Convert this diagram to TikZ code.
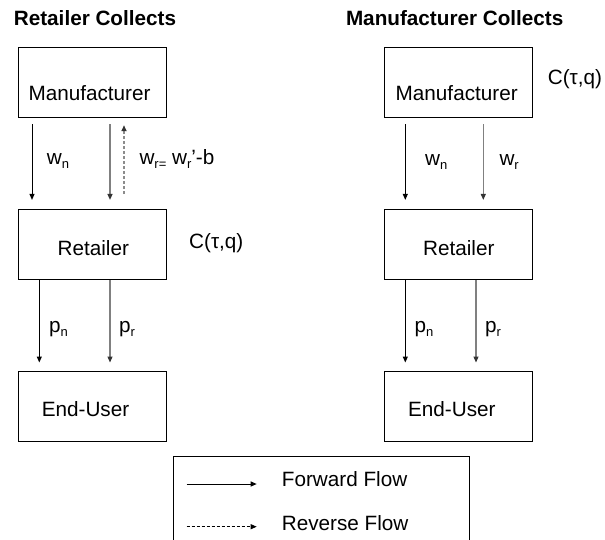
\documentclass[tikz,border=0pt]{standalone}
\usepackage{fontspec}
\setmainfont{Liberation Sans}
\usetikzlibrary{arrows.meta}
\newcommand\sbs[1]{\raisebox{-4.5pt}{\fontsize{13}{13}\selectfont #1}}
\tikzset{
  box/.style={draw, line width=1pt, minimum width=147.7pt, minimum height=70pt, inner sep=0pt},
  txt/.style={anchor=base, inner sep=0pt, font=\fontsize{20.7}{24}\selectfont},
  txtw/.style={anchor=base west, inner sep=0pt, font=\fontsize{20.7}{24}\selectfont},
  ttl/.style={anchor=base, inner sep=0pt, font=\fontsize{20.7}{24}\selectfont\bfseries},
  fwd/.style={line width=1pt, -{Triangle[length=6pt,width=5pt]}},
  fwdg/.style={line width=1.2pt, draw=black!50, -{Triangle[length=6pt,width=5pt,black!80]}},
  rev/.style={line width=1.5pt, draw=black!45, dash pattern=on 3pt off 2pt, -{Triangle[length=6pt,width=5pt,black!80]}},
}
\begin{document}
\begin{tikzpicture}[x=1pt,y=-1pt]
\useasboundingbox (0,0) rectangle (605,539);
\clip (0,0) rectangle (605,539);
% titles
\node[ttl] (t1) at (95,25) {Retailer Collects};
\node[ttl] (t2) at (454.7,25) {Manufacturer Collects};
% boxes left
\node[box] (mL) at (92.2,82) {};
\node[box] (rL) at (92.2,244.7) {};
\node[box] (eL) at (92.2,406) {};
% boxes right
\node[box] (mR) at (458.4,82) {};
\node[box] (rR) at (458.4,244.7) {};
\node[box] (eR) at (458.4,406) {};
% box texts
\node[txt] (mLt) at (89.5,100) {Manufacturer};
\node[txt] (rLt) at (93.3,255) {Retailer};
\node[txt] (eLt) at (85.5,416.7) {End-User};
\node[txt] (mRt) at (456.7,100) {Manufacturer};
\node[txt] (rRt) at (458.8,255) {Retailer};
\node[txt] (eRt) at (451.8,416.7) {End-User};
% cost labels
\node[txtw] (cL) at (189,248) {C(τ,q)};
\node[txtw] (cR) at (547.7,84) {C(τ,q)};
% left top arrows
\draw[fwd, shorten <=6.7pt, shorten >=9.3pt] ([xshift=-60.2pt]mL.south) -- ([xshift=-60.2pt]rL.north);
\draw[fwdg, shorten <=6.7pt, shorten >=9.3pt] ([xshift=17.8pt]mL.south) -- ([xshift=17.8pt]rL.north);
\draw[rev, shorten <=15pt, shorten >=7.7pt] ([xshift=31.8pt]rL.north) -- ([xshift=31.8pt]mL.south);
\node[txtw] (wnL) at (46.7,164) {w\sbs{n}};
\node[txtw] (wrL) at (139.3,164) {w\sbs{r=} w\sbs{r}’-b};
% left bottom arrows
\draw[fwd, shorten >=8pt] ([xshift=-52.9pt]rL.south) -- ([xshift=-52.9pt]eL.north);
\draw[fwdg, shorten >=8pt] ([xshift=17.8pt]rL.south) -- ([xshift=17.8pt]eL.north);
\node[txtw] (pnL) at (49,332) {p\sbs{n}};
\node[txtw] (prL) at (119,332) {p\sbs{r}};
% right top arrows
\draw[fwd, shorten <=6.7pt, shorten >=9.3pt] ([xshift=-53.1pt]mR.south) -- ([xshift=-53.1pt]rR.north);
\draw[fwdg, shorten <=6.7pt, shorten >=9.3pt] ([xshift=24.9pt]mR.south) -- ([xshift=24.9pt]rR.north);
\node[txtw] (wnR) at (425,165) {w\sbs{n}};
\node[txtw] (wrR) at (499.3,165) {w\sbs{r}};
% right bottom arrows
\draw[fwd, shorten >=8pt] ([xshift=-53.1pt]rR.south) -- ([xshift=-53.1pt]eR.north);
\draw[fwdg, shorten >=8pt] ([xshift=17.6pt]rR.south) -- ([xshift=17.6pt]eR.north);
\node[txtw] (pnR) at (414.3,332) {p\sbs{n}};
\node[txtw] (prR) at (485,332) {p\sbs{r}};
% legend
\node[draw, line width=1pt, anchor=north west, minimum width=295.8pt, minimum height=90pt, inner sep=0pt] (leg) at (172.7,455.7) {};
\coordinate (f1) at (186.7,484);
\coordinate (f2) at (256.7,484);
\coordinate (r1) at (186.7,526.7);
\coordinate (r2) at (256.7,526.7);
\draw[fwd] (f1) -- (f2);
\draw[line width=1pt, dash pattern=on 3pt off 2pt, -{Triangle[length=6pt,width=5pt]}] (r1) -- (r2);
\node[txtw] (lf) at (281.7,486.7) {Forward Flow};
\node[txtw] (lr) at (281.7,530.7) {Reverse Flow};
\end{tikzpicture}
\end{document}
